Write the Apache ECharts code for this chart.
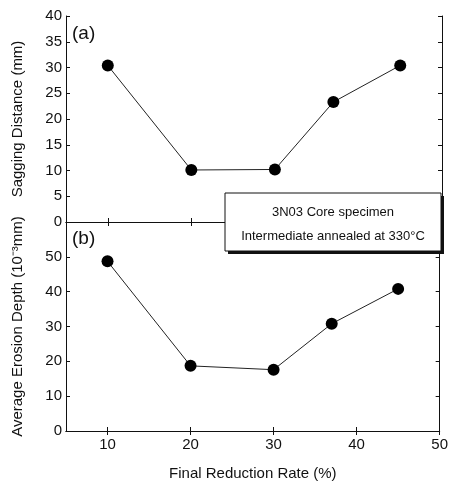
<!DOCTYPE html>
<html>
<head>
<meta charset="utf-8">
<script src="https://cdn.jsdelivr.net/npm/echarts@6/dist/echarts.min.js"></script>
<style>html,body{margin:0;padding:0;background:#fff}#c{width:451px;height:486px}</style>
</head>
<body>
<div id="c"></div>
<script>
// Data
const reductionRate = [10, 20, 30, 37, 45];
const saggingDistance = [30.4, 10.1, 10.2, 23.3, 30.4];
const erosionDepth = [48.7, 18.7, 17.6, 30.8, 40.8];
const xTickValues = [10, 20, 30, 40, 50];
const legendLines = ['3N03 Core specimen', 'Intermediate annealed at 330°C'];

const FONT = 'Liberation Sans, Arial, sans-serif';
const chart = echarts.init(document.getElementById('c'));

const baseAxisLine = { show: true, lineStyle: { color: '#111', width: 1 } };
function xAx(grid, pos, showLabels, name) {
  return {
    type: 'value', gridIndex: grid, position: pos, min: 5, max: 50,
    axisLine: baseAxisLine,
    axisTick: { show: true, inside: true, length: 4, customValues: xTickValues, lineStyle: { color: '#111' } },
    axisLabel: { show: showLabels, customValues: xTickValues, color: '#111', fontFamily: FONT, fontSize: 15, margin: 6 },
    splitLine: { show: false },
    name: name || '', nameLocation: 'middle', nameGap: 35,
    nameTextStyle: { color: '#111', fontFamily: FONT, fontSize: 15 }
  };
}
function yAx(grid, pos, max, interval, showLabels, name, hideMax) {
  return {
    type: 'value', gridIndex: grid, position: pos, min: 0, max: max, interval: interval,
    axisLine: baseAxisLine,
    axisTick: { show: true, inside: true, length: 4, lineStyle: { color: '#111' } },
    axisLabel: { show: showLabels, color: '#111', fontFamily: FONT, fontSize: 15, margin: 4, showMaxLabel: !hideMax },
    splitLine: { show: false },
    name: name || '', nameLocation: 'middle', nameGap: 41,
    nameTextStyle: { color: '#111', fontFamily: FONT, fontSize: 15 }
  };
}

const seriesStyle = {
  type: 'line', symbol: 'circle', symbolSize: 12,
  itemStyle: { color: '#000' }, lineStyle: { color: '#222', width: 1 },
  animation: false
};

chart.setOption({
  animation: false,
  grid: [
    { left: 66, right: 9, top: 16, height: 206 },
    { left: 66, right: 9, top: 222, height: 209 }
  ],
  xAxis: [
    xAx(0, 'bottom', false),
    xAx(0, 'top', false),
    xAx(1, 'bottom', true, 'Final Reduction Rate (%)'),
    xAx(1, 'top', false)
  ],
  yAxis: [
    yAx(0, 'left', 40, 5, true, 'Sagging Distance (mm)'),
    yAx(0, 'right', 40, 5, false),
    yAx(1, 'left', 60, 10, true, 'Average Erosion Depth (10\u207B\u00B3mm)', true),
    yAx(1, 'right', 60, 10, false)
  ],
  series: [
    Object.assign({}, seriesStyle, { xAxisIndex: 0, yAxisIndex: 0, data: reductionRate.map((x, i) => [x, saggingDistance[i]]) }),
    Object.assign({}, seriesStyle, { xAxisIndex: 2, yAxisIndex: 2, data: reductionRate.map((x, i) => [x, erosionDepth[i]]) })
  ],
  graphic: [
    { type: 'text', left: 72, top: 24, style: { text: '(a)', font: '19px ' + FONT, fill: '#111' } },
    { type: 'text', left: 72, top: 229, style: { text: '(b)', font: '19px ' + FONT, fill: '#111' } },
    { type: 'rect', shape: { x: 228, y: 196, width: 216, height: 58 }, style: { fill: '#111' }, z: 10 },
    { type: 'rect', shape: { x: 225, y: 193, width: 216, height: 58 }, style: { fill: '#fff', stroke: '#111', lineWidth: 1 }, z: 11 },
    { type: 'text', x: 333, y: 212, z: 12, style: { text: legendLines[0], font: '13px ' + FONT, fill: '#111', align: 'center', verticalAlign: 'middle' } },
    { type: 'text', x: 333, y: 236, z: 12, style: { text: legendLines[1], font: '13px ' + FONT, fill: '#111', align: 'center', verticalAlign: 'middle' } }
  ]
});
</script>
</body>
</html>
